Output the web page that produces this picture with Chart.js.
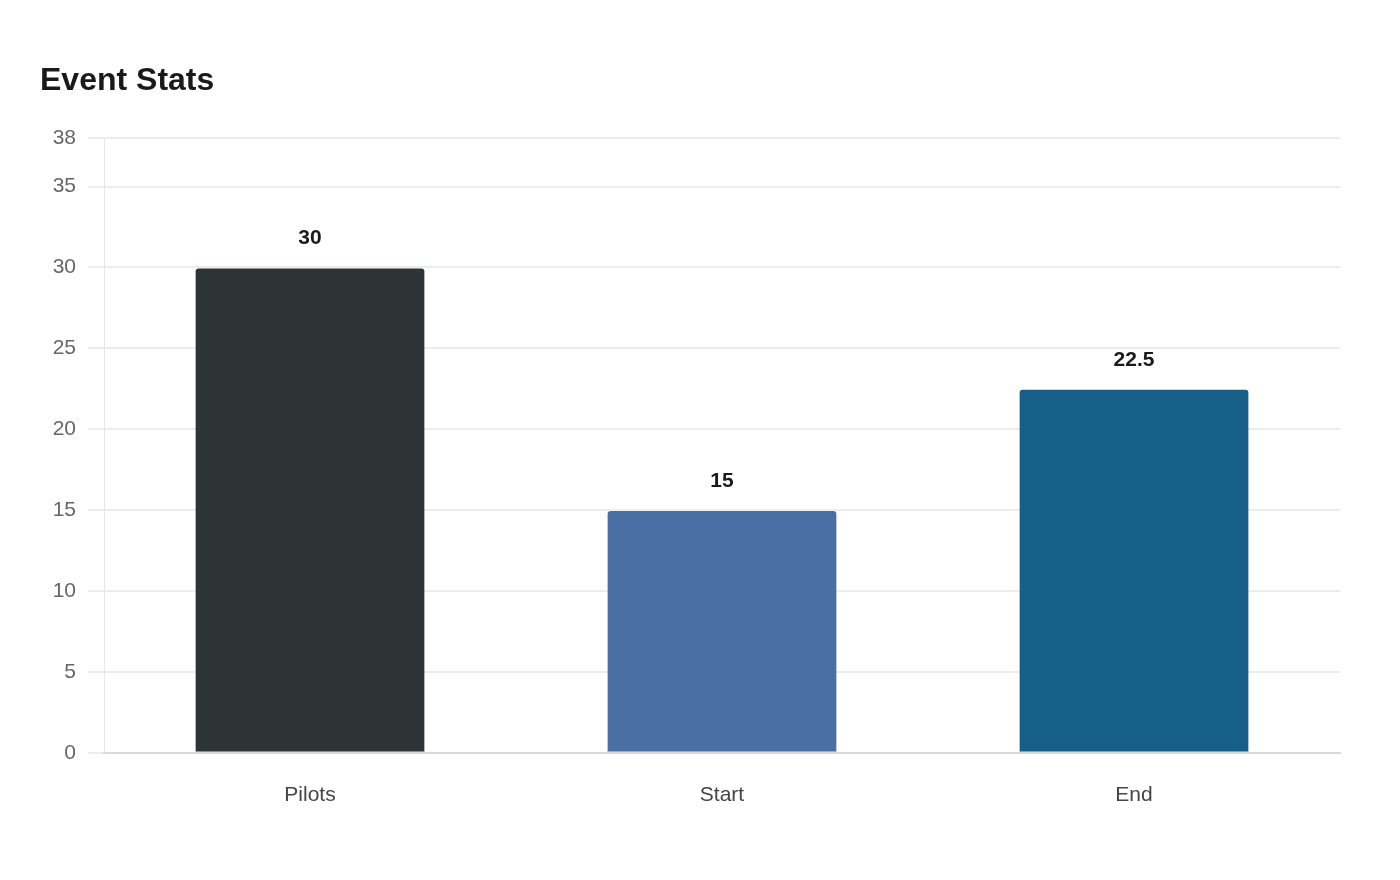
<!DOCTYPE html>
<html>
<head>
<meta charset="utf-8">
<title>Event Stats</title>
<script src="https://cdn.jsdelivr.net/npm/chart.js@4/dist/chart.umd.min.js"></script>
<style>
  html, body { margin: 0; padding: 0; background: #fff; }
  #wrap { width: 1400px; height: 880px; }
</style>
</head>
<body>
<div id="wrap"><canvas id="chart"></canvas></div>
<script>
const categories = ['Pilots', 'Start', 'End'];
const values = [30, 15, 22.5];
const barColors = ['#2d3436', '#4a6fa5', '#166088'];
const yMax = 38;
const yStep = 5;

Chart.defaults.font.family = '"Liberation Sans", Arial, sans-serif';

// draws the value above each bar
const valueLabels = {
  id: 'valueLabels',
  afterDatasetsDraw(chart) {
    const ctx = chart.ctx;
    const meta = chart.getDatasetMeta(0);
    ctx.save();
    ctx.font = 'bold 21px "Liberation Sans", Arial, sans-serif';
    ctx.fillStyle = '#1a1a1a';
    ctx.textAlign = 'center';
    ctx.textBaseline = 'middle';
    meta.data.forEach((bar, i) => {
      ctx.fillText(String(values[i]), bar.x, bar.y - 29);
    });
    ctx.restore();
  }
};

new Chart(document.getElementById('chart'), {
  type: 'bar',
  data: {
    labels: categories,
    datasets: [{
      data: values,
      backgroundColor: barColors,
      borderColor: 'rgba(255,255,255,0.35)',
      borderWidth: 1,
      borderRadius: 4,
      categoryPercentage: 0.8,
      barPercentage: 0.7
    }]
  },
  options: {
    responsive: true,
    maintainAspectRatio: false,
    animation: false,
    layout: { padding: { left: 40, right: 60, top: 62, bottom: 42 } },
    plugins: {
      legend: { display: false },
      tooltip: { enabled: false },
      title: {
        display: true,
        text: 'Event Stats',
        align: 'start',
        color: '#1a1a1a',
        font: { size: 32, weight: 'bold' },
        padding: { top: 0, bottom: 37.6 }
      }
    },
    scales: {
      x: {
        grid: { display: false, drawTicks: false },
        border: { display: true, color: '#d9d9d9', width: 2 },
        ticks: { color: '#444', font: { size: 21 }, padding: 30 }
      },
      y: {
        min: 0,
        max: yMax,
        afterFit(scale) { scale.width = 64; },
        grid: { color: '#ececec', lineWidth: 2, tickLength: 16 },
        border: { display: true, color: '#e6e6e6', width: 1 },
        ticks: { stepSize: yStep, color: '#666', font: { size: 21 }, padding: 12 }
      }
    }
  },
  plugins: [valueLabels]
});
</script>
</body>
</html>
